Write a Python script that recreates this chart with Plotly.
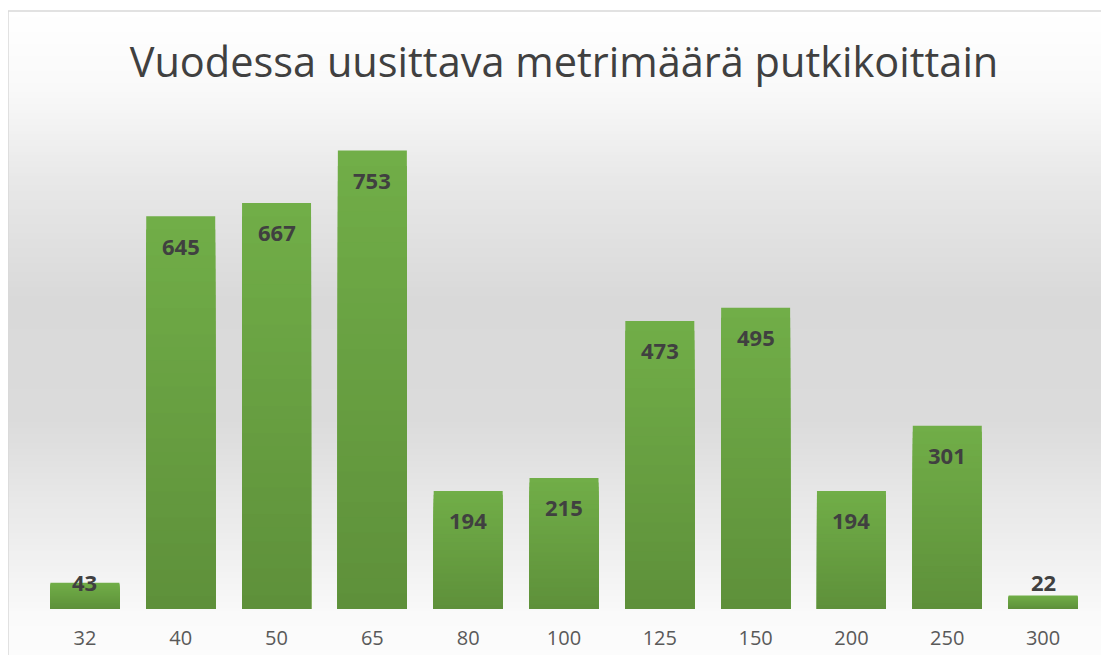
import plotly.graph_objects as go

# Putkikoot (mm) ja vuodessa uusittava metrimäärä
koot = ["32", "40", "50", "65", "80", "100", "125", "150", "200", "250", "300"]
metrit = [43, 645, 667, 753, 194, 215, 473, 495, 194, 301, 22]

# Sivun oletusmarginaali (8 px) siirtää kuvaa, joten mitat on laskettu sen mukaan
OFF = 8
W, H = 1109 - OFF, 663 - 2 * OFF
ML, MR, MT = 37 - OFF, 18, 122 - OFF
MB = H - (609 - OFF)
plot_h = H - MT - MB
plot_w = W - ML - MR

fig = go.Figure()

# Palkit liukuvärillä: korkein (vaalein) ensin, lyhyemmät tummemmat osat päälle
N = 30
c_bot = (94, 144, 58)
c_top = (113, 174, 72)
for k in range(N - 1, -1, -1):
    t = (k + 0.5) / N
    r, g, b = [round(c0 + (c1 - c0) * t) for c0, c1 in zip(c_bot, c_top)]
    fig.add_trace(go.Bar(
        x=koot,
        y=[v * (k + 1) / N for v in metrit],
        marker=dict(color=f"rgb({r},{g},{b})", line=dict(width=0)),
        width=0.72,
        hoverinfo="x+y" if k == N - 1 else "skip",
    ))

# Taustan liukuväri (valkoinen -> harmaa -> valkoinen), näytön pikseleinä ylhäältä
stops = [(11, 255), (90, 249), (180, 232), (300, 217), (420, 219), (500, 232), (570, 242), (615, 250), (663, 252)]

def gray_at(py):
    for (y0, g0), (y1, g1) in zip(stops, stops[1:]):
        if y0 <= py <= y1:
            t = (py - y0) / (y1 - y0)
            return round(g0 + (g1 - g0) * t)
    return stops[-1][1]

def to_paper_y(py):
    return (H - MB - (py - OFF)) / plot_h

def to_paper_x(px):
    return (px - OFF - ML) / plot_w

shapes = []
step = 3
for py in range(11, 663 + step, step):
    g = gray_at(py + step / 2)
    shapes.append(dict(
        type="rect", xref="paper", yref="paper", layer="below",
        x0=to_paper_x(8), x1=to_paper_x(1120),
        y0=to_paper_y(py + step), y1=to_paper_y(py),
        fillcolor=f"rgb({g},{g},{g})", line=dict(width=0),
    ))
# Kaavion reunaviiva
shapes.append(dict(
    type="rect", xref="paper", yref="paper", layer="below",
    x0=to_paper_x(8), x1=to_paper_x(1120),
    y0=to_paper_y(680), y1=to_paper_y(11),
    line=dict(color="#d9d9d9", width=1.5), fillcolor="rgba(0,0,0,0)",
))

# Arvojen otsikot palkkien yläpäähän
annotations = []
for i, v in enumerate(metrit):
    annotations.append(dict(
        x=i, y=max(v - 48, 44), xref="x", yref="y",
        text=f"<b>{v}</b>", showarrow=False, yanchor="middle",
        font=dict(family="Open Sans", size=22, color="#404040"),
    ))

fig.update_layout(
    width=W, height=H,
    margin=dict(l=ML, r=MR, t=MT, b=MB, autoexpand=False),
    paper_bgcolor="white",
    plot_bgcolor="rgba(0,0,0,0)",
    title=dict(
        text="Vuodessa uusittava metrimäärä putkikoittain",
        x=to_paper_x(564), xanchor="center", xref="paper",
        y=1 - (62 - OFF) / H, yanchor="middle",
        font=dict(family="Open Sans", size=41.5, color="#404040"),
    ),
    xaxis=dict(
        type="category", range=[-0.5, len(koot) - 0.5], automargin=False,
        showgrid=False, zeroline=False, showline=False,
        ticks="", ticklabelstandoff=15, tickangle=0,
        tickfont=dict(family="Open Sans", size=20, color="#595959"),
    ),
    yaxis=dict(range=[0, 800], visible=False),
    barmode="overlay",
    shapes=shapes,
    annotations=annotations,
    showlegend=False,
)

fig.write_html("out.html")
